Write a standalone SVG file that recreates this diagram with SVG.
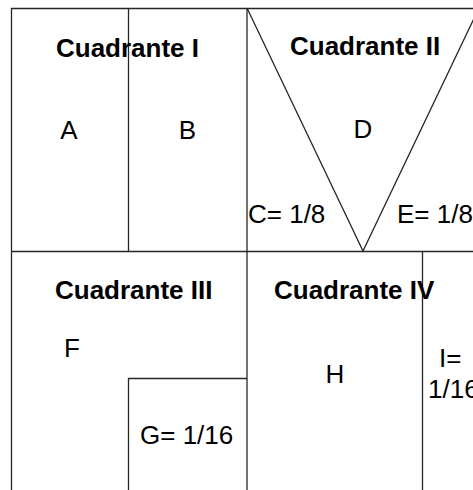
<svg xmlns="http://www.w3.org/2000/svg" width="473" height="490" viewBox="0 0 473 490">
<style>
.ln{stroke:#262626;stroke-width:1.3;fill:none}
.t{font-family:"Liberation Sans",Arial,sans-serif;font-size:26px;fill:#000}
.b{font-weight:bold}
</style>
<rect width="473" height="490" fill="#fff"/>
<g id="connectors">
<line class="ln" x1="11" y1="8.5" x2="473" y2="8.5"/>
<line class="ln" x1="11.5" y1="8" x2="11.5" y2="490"/>
<line class="ln" x1="11" y1="251.5" x2="473" y2="251.5"/>
<line class="ln" x1="128.5" y1="8" x2="128.5" y2="251"/>
<line class="ln" x1="247" y1="8" x2="247" y2="490"/>
<polyline class="ln" points="247,8 363,251 479,8"/>
<line class="ln" x1="422.5" y1="251" x2="422.5" y2="490"/>
<line class="ln" x1="128" y1="378.5" x2="247" y2="378.5"/>
<line class="ln" x1="128.5" y1="378" x2="128.5" y2="490"/>
</g>
<g id="q1">
<text class="t b" x="56" y="57">Cuadrante I</text>
</g>
<g id="nA"><text class="t" x="69" y="139" text-anchor="middle">A</text></g>
<g id="nB"><text class="t" x="187.5" y="139" text-anchor="middle">B</text></g>
<g id="q2"><text class="t b" x="290" y="55">Cuadrante II</text></g>
<g id="nD"><text class="t" x="363" y="138" text-anchor="middle">D</text></g>
<g id="nC"><text class="t" x="248" y="223">C= 1/8</text></g>
<g id="nE"><text class="t" x="397" y="223">E= 1/8</text></g>
<g id="q3"><text class="t b" x="55" y="299">Cuadrante III</text></g>
<g id="nF"><text class="t" x="72" y="357" text-anchor="middle">F</text></g>
<g id="nG"><text class="t" x="140" y="444">G= 1/16</text></g>
<g id="q4"><text class="t b" x="274" y="299">Cuadrante IV</text></g>
<g id="nH"><text class="t" x="335" y="383" text-anchor="middle">H</text></g>
<g id="nI"><text class="t" x="439" y="367">I=</text><text class="t" x="428" y="398">1/16</text></g>
</svg>
